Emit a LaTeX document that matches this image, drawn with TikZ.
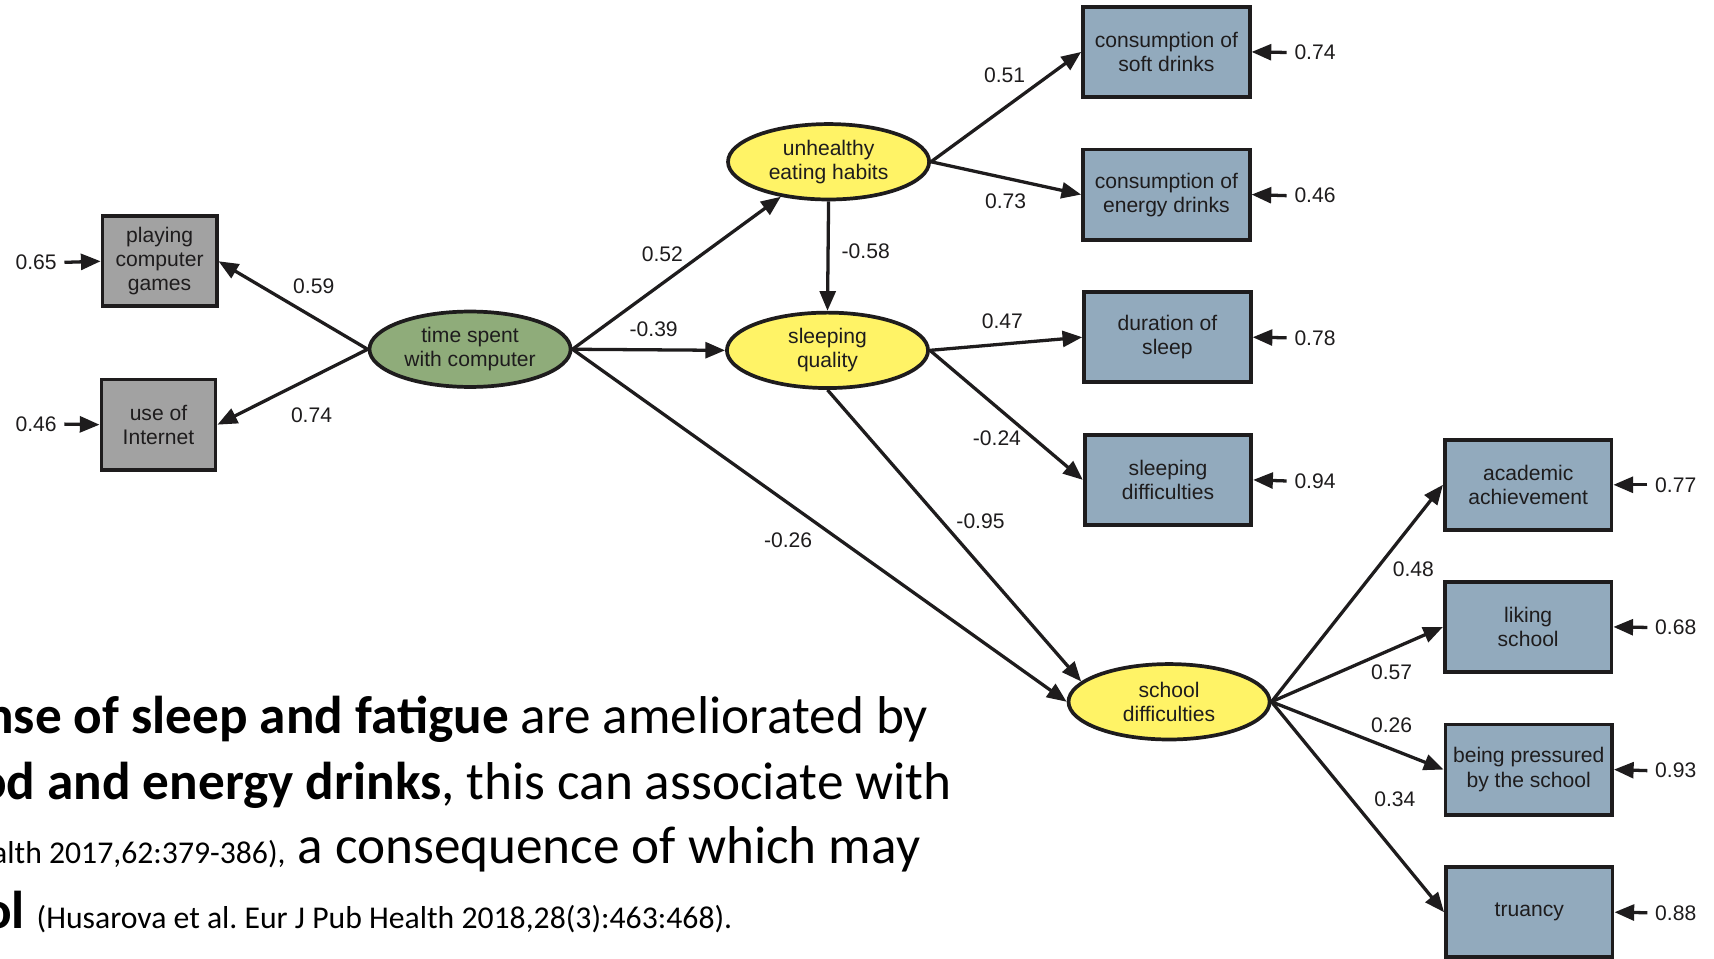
\documentclass[tikz,border=0pt]{standalone}
\usepackage{fontspec}
\setmainfont{Liberation Sans}
\newfontfamily\slidefont{Carlito}
\usetikzlibrary{arrows.meta,shapes.geometric}
\frenchspacing

\definecolor{boxblue}{RGB}{146,170,189}
\definecolor{boxgray}{RGB}{162,162,162}
\definecolor{ellgreen}{RGB}{143,172,122}
\definecolor{ellyellow}{RGB}{255,243,102}
\definecolor{inkc}{RGB}{30,28,29}

\begin{document}
\begin{tikzpicture}[x=1pt,y=-1pt,
  font=\fontsize{19.3}{22}\selectfont,
  obs/.style={draw=inkc, line width=3.4pt, rectangle, minimum width=152.5pt, minimum height=82.5pt,
    fill=boxblue, align=center, inner sep=0pt, text=inkc},
  obsgray/.style={obs, fill=boxgray, minimum width=104.5pt},
  lat/.style={draw=inkc, line width=3.4pt, ellipse, minimum width=184pt, minimum height=69pt,
    inner sep=0pt, align=center, fill=ellyellow, text=inkc},
  pathc/.style={draw=inkc, line width=3pt, -{Triangle[length=18pt,width=14.5pt]}},
  coef/.style={text=inkc, inner sep=0pt},
  resid/.style={text=inkc, inner ysep=0pt, inner xsep=7pt},
  slide/.style={anchor=base east, inner sep=0pt, text=black, font=\slidefont\fontsize{48.7}{57}\selectfont},
]
\useasboundingbox (0,0) rectangle (1568,877);
\clip (0,0) rectangle (1568,877);
\fill[white] (0,0) rectangle (1568,877);

% nodes
\node[obsgray] (games) at (146,239) {playing\\computer\\games};
\node[obsgray] (internet) at (145,388.5) {use of\\Internet};
\node[lat, fill=ellgreen] (time) at (430,319.5) {time spent\\with computer};
\node[lat] (eat) at (758,148) {unhealthy\\eating habits};
\node[lat] (sleepq) at (757,320.5) {sleeping\\quality};
\node[lat] (school) at (1069.5,642) {school\\difficulties};
\node[obs] (soft) at (1067,47.5) {consumption of\\soft drinks};
\node[obs] (energy) at (1067,178) {consumption of\\energy drinks};
\node[obs] (dur) at (1068,308.5) {duration of\\sleep};
\node[obs] (sdiff) at (1068.5,439) {sleeping\\difficulties};
\node[obs] (acad) at (1398,443.5) {academic\\achievement};
\node[obs] (liking) at (1398,573.5) {liking\\school};
\node[obs] (press) at (1398.5,704) {being pressured\\by the school};
\node[obs] (truancy) at (1399,834.5) {truancy};

% residuals
\node[resid] (r1) at (33,240) {0.65};
\node[resid] (r2) at (33,388) {0.46};
\node[resid] (r3) at (1203,48) {0.74};
\node[resid] (r4) at (1203,179) {0.46};
\node[resid] (r5) at (1203,309) {0.78};
\node[resid] (r6) at (1203,440) {0.94};
\node[resid] (r7) at (1533,443.5) {0.77};
\node[resid] (r8) at (1533,574) {0.68};
\node[resid] (r9) at (1533,705) {0.93};
\node[resid] (r10) at (1533,835) {0.88};

\draw[pathc] (r1.east) -- (games.west);
\draw[pathc] (r2.east) -- (internet.west);
\draw[pathc] (r3.west) -- (soft.east);
\draw[pathc] (r4.west) -- (energy.east);
\draw[pathc] (r5.west) -- (dur.east);
\draw[pathc] (r6.west) -- (sdiff.east);
\draw[pathc] (r7.west) -- (acad.east);
\draw[pathc] (r8.west) -- (liking.east);
\draw[pathc] (r9.west) -- (press.east);
\draw[pathc] (r10.west) -- (truancy.east);

% structural paths
\draw[pathc] (time.west) -- (games.east);
\draw[pathc] (time.west) -- (internet.east);
\draw[pathc] (time.east) -- (eat);
\draw[pathc] (time.east) -- (sleepq.west);
\draw[pathc] (time.east) -- (school.west);
\draw[pathc] (eat.south) -- (sleepq.north);
\draw[pathc] (eat.east) -- (soft.west);
\draw[pathc] (eat.east) -- (energy.west);
\draw[pathc] (sleepq.east) -- (dur.west);
\draw[pathc] (sleepq.east) -- (sdiff.west);
\draw[pathc] (sleepq.south) -- (school.167);
\draw[pathc] (school.east) -- (acad.west);
\draw[pathc] (school.east) -- (liking.west);
\draw[pathc] (school.east) -- (press.west);
\draw[pathc] (school.east) -- (truancy.west);

% coefficients
\node[coef] (c1) at (287,262) {0.59};
\node[coef] (c2) at (285,380) {0.74};
\node[coef] (c3) at (606,233) {0.52};
\node[coef] (c4) at (598,301) {-0.39};
\node[coef] (c5) at (792,230) {-0.58};
\node[coef] (c6) at (919,69) {0.51};
\node[coef] (c7) at (920,184) {0.73};
\node[coef] (c8) at (917,294) {0.47};
\node[coef] (c9) at (912,401) {-0.24};
\node[coef] (c10) at (897,477) {-0.95};
\node[coef] (c11) at (721,494) {-0.26};
\node[coef] (c12) at (1293,521) {0.48};
\node[coef] (c13) at (1273,615) {0.57};
\node[coef] (c14) at (1273,663) {0.26};
\node[coef] (c15) at (1276,731) {0.34};

% slide text
\node[slide] (t1) at (849,671) {\textbf{nse of sleep and fatigue} are ameliorated by};
\node[slide] (t2) at (871,731) {\textbf{od and energy drinks}, this can associate with};
\node[slide] (t3) at (842,790) {{\fontsize{29}{34}\selectfont alth 2017,62:379-386),} a consequence of which may};
\node[slide] (t4) at (670,849) {\textbf{ol} {\fontsize{29}{34}\selectfont (Husarova et al. Eur J Pub Health 2018,28(3):463:468).}};
\end{tikzpicture}
\end{document}
